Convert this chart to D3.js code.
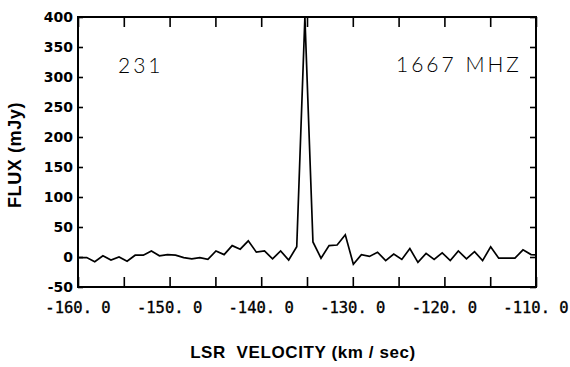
<!DOCTYPE html>
<html>
<head>
<meta charset="utf-8">
<script src="https://cdn.jsdelivr.net/npm/d3@7"></script>
<style>
  html, body { margin: 0; padding: 0; background: #fff; }
  svg { display: block; }
</style>
</head>
<body>
<svg id="chart" width="570" height="367"></svg>
<script>
// ---- data ----
const velocities = [
  -159.93, -159.05, -158.17, -157.28, -156.40, -155.52, -154.64, -153.76, -152.87, -151.99,
  -151.11, -150.23, -149.35, -148.46, -147.58, -146.70, -145.82, -144.94, -144.05, -143.17,
  -142.29, -141.41, -140.53, -139.64, -138.76, -137.88, -137.00, -136.12, -135.23, -134.35,
  -133.47, -132.59, -131.71, -130.82, -129.94, -129.06, -128.18, -127.30, -126.41, -125.53,
  -124.65, -123.77, -122.89, -122.00, -121.12, -120.24, -119.36, -118.48, -117.59, -116.71,
  -115.83, -114.95, -114.07, -113.18, -112.30, -111.42, -110.54, -109.66
];
const fluxes = [
  -1, -1, -8, 2, -5, 0, -7, 3, 3, 10,
  2, 4, 3, -1, -3, -1, -4, 10, 4, 19,
  13, 27, 8, 10, -3, 10, -5, 17, 400, 25,
  -2, 19, 20, 37, -12, 4, 1, 8, -6, 5,
  -4, 14, -9, 6, -4, 7, -6, 10, -3, 9,
  -6, 17, -2, -2, -2, 12, 4, 3
];
const xMinorTicks = [-160, -155, -150, -145, -140, -135, -130, -125, -120, -115, -110];
const xTickValues = [-160, -150, -140, -130, -120, -110];
const xTickLabels = ["-160. 0", "-150. 0", "-140. 0", "-130. 0", "-120. 0", "-110. 0"];
const yTickValues = [-50, 0, 50, 100, 150, 200, 250, 300, 350, 400];
const yTickLabels = ["-50", "0", "50", "100", "150", "200", "250", "300", "350", "400"];
const sourceLabel = "231";
const freqLabel = "1667 MHZ";
const xTitle = "LSR  VELOCITY (km / sec)";
const yTitle = "FLUX (mJy)";

// ---- layout ----
const L = 78, R = 536, T = 17, B = 287;
const svg = d3.select("#chart");
const x = d3.scaleLinear().domain([-160, -110]).range([L, R]);
const y = d3.scaleLinear().domain([-50, 400]).range([B, T]);

svg.append("defs").append("clipPath").attr("id", "plotclip")
  .append("rect").attr("x", L).attr("y", T - 2).attr("width", R - L).attr("height", B - T + 2);

// axes (ticks inward)
const axB = svg.append("g").attr("transform", `translate(0,${B})`)
  .call(d3.axisTop(x).tickValues(xMinorTicks).tickSize(10).tickFormat(""));
const axT = svg.append("g").attr("transform", `translate(0,${T})`)
  .call(d3.axisBottom(x).tickValues(xMinorTicks).tickSize(10).tickFormat(""));
const axL = svg.append("g").attr("transform", `translate(${L},0)`)
  .call(d3.axisRight(y).tickValues(yTickValues).tickSize(5).tickFormat(""));
const axR = svg.append("g").attr("transform", `translate(${R},0)`)
  .call(d3.axisLeft(y).tickValues(yTickValues).tickSize(6).tickFormat(""));
[axB, axT, axL, axR].forEach(g => {
  g.select(".domain").remove();
  g.selectAll(".tick line").attr("stroke", "#000").attr("stroke-width", 1.6);
});

// frame
svg.append("rect").attr("x", L).attr("y", T).attr("width", R - L).attr("height", B - T)
  .attr("fill", "none").attr("stroke", "#000").attr("stroke-width", 2);

// x tick labels
svg.append("g").selectAll("text").data(xTickValues).join("text")
  .attr("x", d => x(d)).attr("y", 313)
  .attr("text-anchor", "middle")
  .attr("font-family", "'DejaVu Sans Mono', monospace")
  .attr("font-size", 15.5)
  .attr("fill", "#000").attr("stroke", "#000").attr("stroke-width", 0.35)
  .text((d, i) => xTickLabels[i]);

// y tick labels
svg.append("g").selectAll("text").data(yTickValues).join("text")
  .attr("x", 73).attr("y", d => y(d) + 5)
  .attr("text-anchor", "end")
  .attr("font-family", "'DejaVu Sans', sans-serif")
  .attr("font-weight", "bold")
  .attr("font-size", 14)
  .attr("fill", "#000")
  .text((d, i) => yTickLabels[i]);

// data line
const line = d3.line().x((d, i) => x(velocities[i])).y(d => y(d));
svg.append("path").datum(fluxes)
  .attr("clip-path", "url(#plotclip)")
  .attr("d", line)
  .attr("fill", "none").attr("stroke", "#000").attr("stroke-width", 1.7)
  .attr("stroke-linejoin", "miter");

// annotations
svg.append("text").attr("x", 118).attr("y", 73)
  .attr("font-family", "Lato, 'Open Sans', sans-serif").attr("font-weight", 300)
  .attr("font-size", 21).attr("letter-spacing", 3).attr("fill", "#000")
  .text(sourceLabel);
svg.append("text").attr("x", 396).attr("y", 72)
  .attr("font-family", "Lato, 'Open Sans', sans-serif").attr("font-weight", 300)
  .attr("font-size", 21).attr("letter-spacing", 3).attr("fill", "#000")
  .text(freqLabel);

// axis titles
svg.append("text").attr("x", 303).attr("y", 358)
  .attr("text-anchor", "middle")
  .attr("font-family", "'Liberation Sans', Arial, sans-serif").attr("font-weight", "bold")
  .attr("font-size", 17).attr("letter-spacing", 0.6).attr("fill", "#000")
  .style("white-space", "pre")
  .text(xTitle);
svg.append("text")
  .attr("transform", "translate(21,155) rotate(-90)")
  .attr("text-anchor", "middle")
  .attr("font-family", "'Liberation Sans', Arial, sans-serif").attr("font-weight", "bold")
  .attr("font-size", 18).attr("letter-spacing", 0.6).attr("fill", "#000")
  .text(yTitle);
</script>
</body>
</html>
